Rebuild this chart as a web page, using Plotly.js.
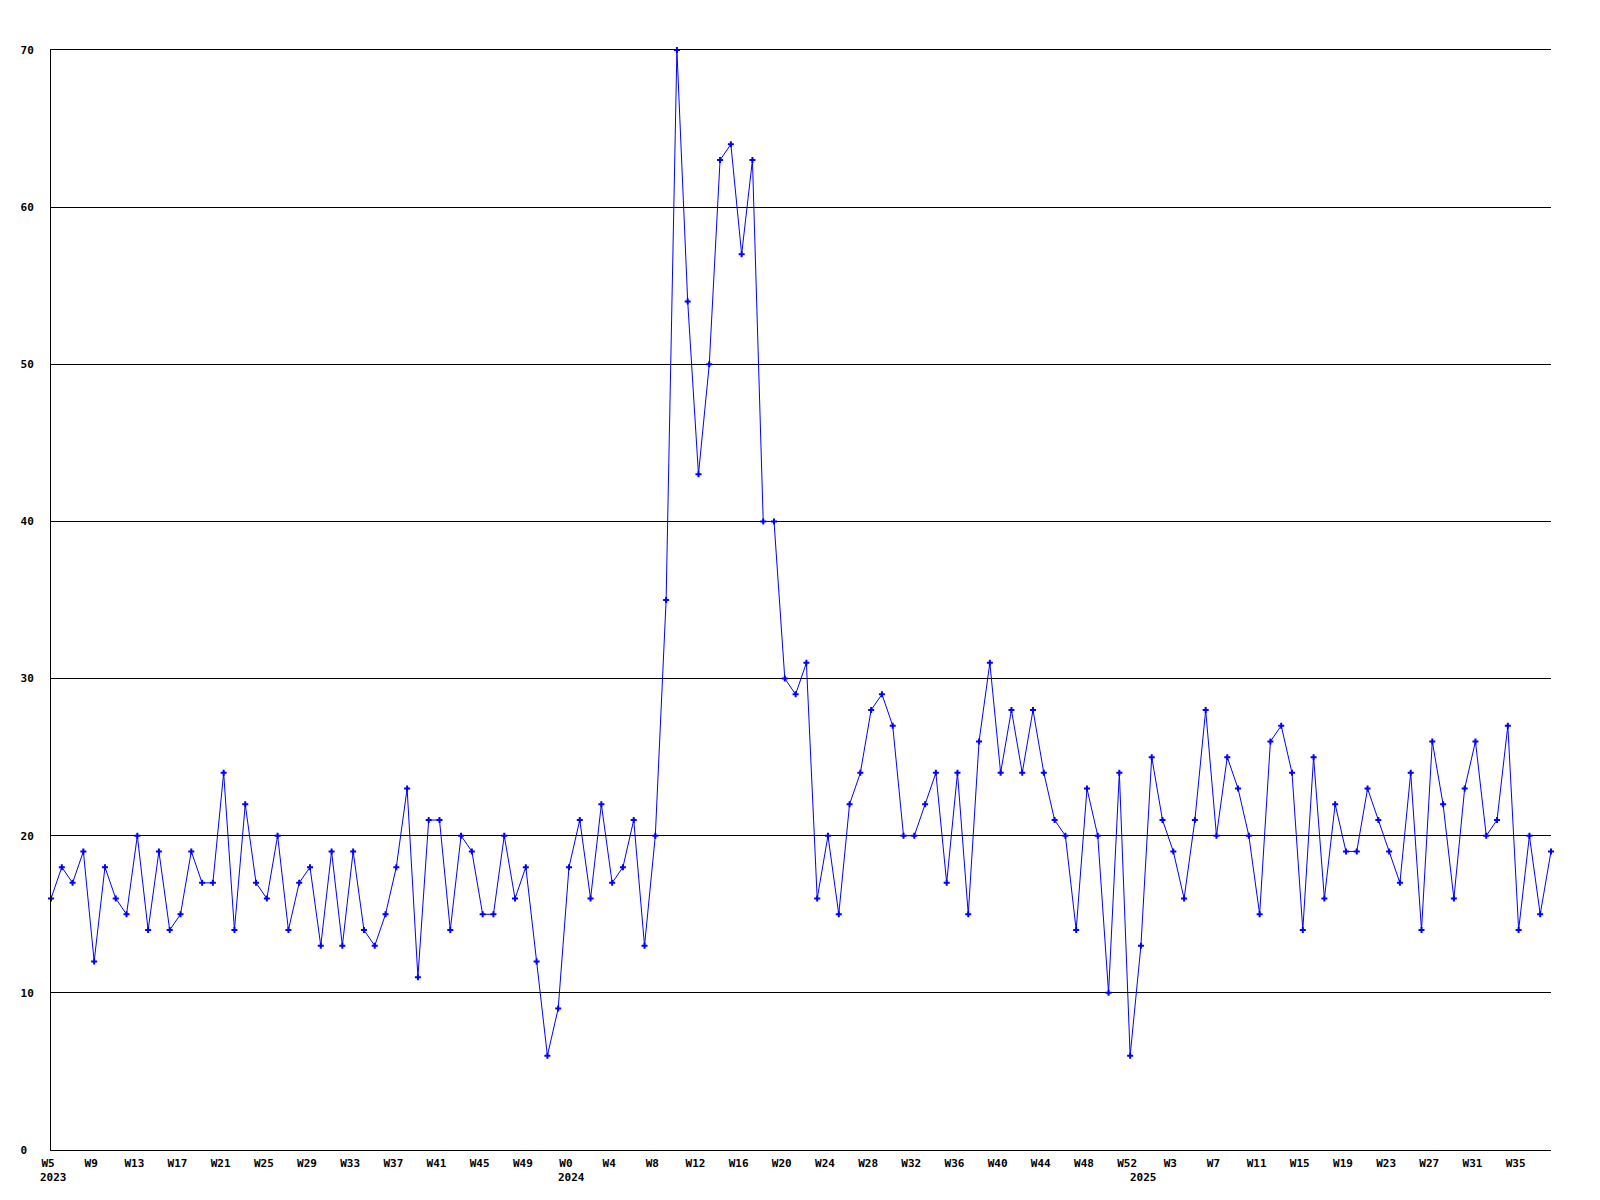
<!DOCTYPE html>
<html>
<head>
<meta charset="utf-8">
<script src="https://cdn.plot.ly/plotly-3.0.1.min.js"></script>
<style>html,body{margin:0;padding:0;background:#fff;}#chart{width:1600px;height:1200px;}</style>
</head>
<body>
<div id="chart"></div>
<script>
// Week ranges per year (first week, last week)
const years2023Weeks = [5, 52];
const years2024Weeks = [0, 52];
const years2025Weeks = [0, 38];

// Weekly values, 2023 W5 .. 2025 W38
const values2023 = [16,18,17,19,12,18,16,15,20,14,19,14,15,19,17,17,24,14,22,17,16,20,14,
  17,18,13,19,13,19,14,13,15,18,23,11,21,21,14,20,19,15,15,20,16,18,12,6,9];
const values2024 = [18,21,16,22,17,18,21,13,20,35,70,54,43,50,63,64,57,63,40,40,30,29,31,
  16,20,15,22,24,28,29,27,20,20,22,24,17,24,15,26,31,24,28,24,28,24,21,20,14,23,20,10,24,6];
const values2025 = [13,25,21,19,16,21,28,20,25,23,20,15,26,27,24,14,25,16,22,19,19,23,21,19,17,
  24,14,26,22,16,23,26,20,21,27,14,20,15,19];

// Tick labels
const tickWeeks2023 = [5,9,13,17,21,25,29,33,37,41,45,49];
const tickWeeks2024 = [0,4,8,12,16,20,24,28,32,36,40,44,48,52];
const tickWeeks2025 = [3,7,11,15,19,23,27,31,35];
const yearLabels = ['2023','2024','2025'];
const yTickVals = [0,10,20,30,40,50,60,70];
const yTickText = ['0\u00a0','10','20','30','40','50','60','70'];

function cats(year, range) {
  const out = [];
  for (let w = range[0]; w <= range[1]; w++) out.push(year + '-W' + w);
  return out;
}
const categories = [].concat(cats(2023, years2023Weeks), cats(2024, years2024Weeks), cats(2025, years2025Weeks));
const values = [].concat(values2023, values2024, values2025);

const tickVals = [].concat(
  tickWeeks2023.map(w => '2023-W' + w),
  tickWeeks2024.map(w => '2024-W' + w),
  tickWeeks2025.map(w => '2025-W' + w));
const tickText = [].concat(tickWeeks2023, tickWeeks2024, tickWeeks2025).map(w => 'W' + w);

const yearStarts = ['2023-W' + years2023Weeks[0], '2024-W' + years2024Weeks[0], '2025-W' + years2025Weeks[0]];

const font = {family: 'DejaVu Sans Mono, Liberation Mono, monospace', size: 11, color: '#000', weight: 'bold'};

const trace = {
  type: 'scatter', mode: 'lines+markers',
  x: categories, y: values,
  line: {color: '#0000ff', width: 1},
  marker: {color: '#0000ff', symbol: 'cross', size: 5, line: {width: 0}},
  hoverinfo: 'x+y', cliponaxis: false
};

const annotations = yearStarts.map((c, i) => ({
  x: c, xref: 'x', y: 0, yref: 'paper', yanchor: 'top', xanchor: 'left',
  text: yearLabels[i], showarrow: false, font: font, xshift: -12, yshift: -20, borderpad: 0
}));

const layout = {
  width: 1600, height: 1200,
  margin: {l: 50.5, r: 49, t: 50, b: 50},
  paper_bgcolor: '#fff', plot_bgcolor: '#fff',
  showlegend: false,
  font: font,
  xaxis: {
    type: 'category', range: [0, categories.length - 1],
    tickmode: 'array', tickvals: tickVals, ticktext: tickText,
    showgrid: false, zeroline: false,
    showline: true, mirror: true, linecolor: '#000', linewidth: 1,
    ticks: '', tickangle: 0, tickfont: font, ticklabelshift: -3, ticklabelstandoff: 3
  },
  yaxis: {
    range: [0, 70], tickmode: 'array', tickvals: yTickVals, ticktext: yTickText,
    showgrid: true, gridcolor: '#000', gridwidth: 1, zeroline: false,
    showline: true, linecolor: '#000', linewidth: 1,
    ticks: '', tickfont: font, ticklabelstandoff: 14
  },
  annotations: annotations
};

Plotly.newPlot('chart', [trace], layout, {displayModeBar: false, staticPlot: true});
</script>
</body>
</html>
